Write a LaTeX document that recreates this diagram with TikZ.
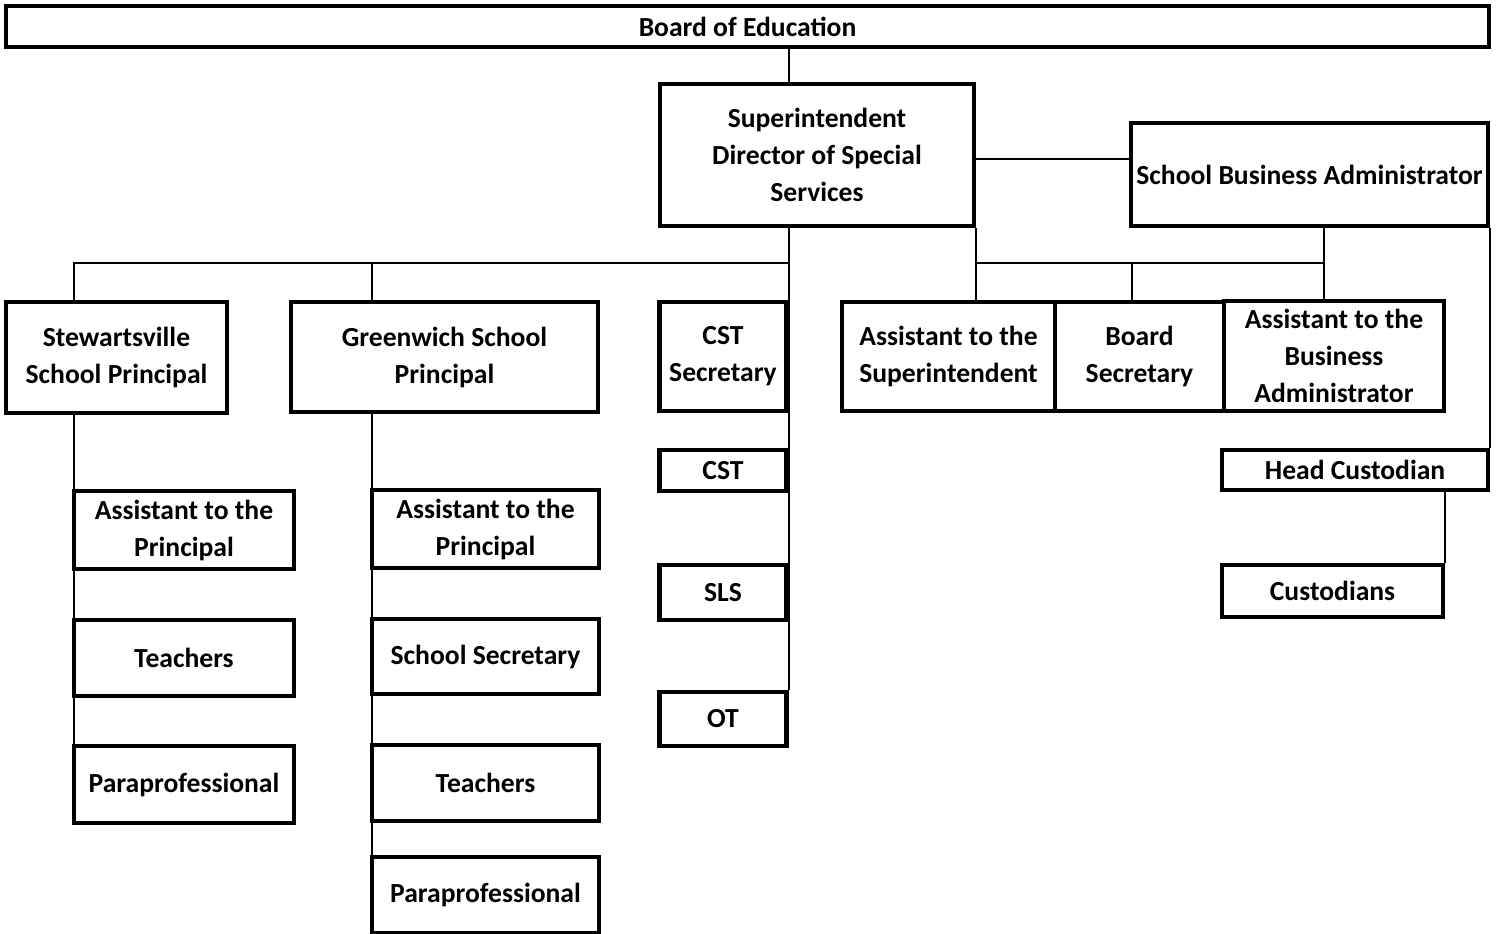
\documentclass[tikz,border=0pt]{standalone}
\usepackage{fontspec}
\setmainfont{Carlito}
\usepackage{tikz}
\usetikzlibrary{positioning, calc}
\tikzset{
    box/.style={rectangle, draw, line width=2.3pt, inner sep=0pt, align=center, font=\bfseries\fontsize{13.8}{18.5}\selectfont},
    sz/.style 2 args={minimum width=#1*0.5pt, minimum height=#2*0.5pt},
    link/.style={line width=1pt}
}

\begin{document}
\begin{tikzpicture}[x=0.5pt, y=-0.5pt]
            \useasboundingbox (0,0) rectangle (1503,933);
            \node[box, sz={1483}{41}] (board) at (747.5,26.5) {Board of Education};
            \node[box, sz={314}{142}] (sup) at (817,155) {Superintendent\\Director of Special\\Services};
            \node[box, sz={357}{103}] (sba) at (1309.5,174.5) {School Business Administrator};
            \node[box, sz={221}{111}] (stew) at (116.5,357.5) {Stewartsville\\School Principal};
            \node[box, sz={307}{110}] (green) at (444.5,357) {Greenwich School\\Principal};
            \node[box, sz={127}{109}] (cstsec) at (723,356.5) {CST\\Secretary};
            \node[box, sz={213}{109}] (asup) at (948.5,356.5) {Assistant to the\\Superintendent};
            \node[box, sz={169}{109}] (bsec) at (1139.5,356.5) {Board\\Secretary};
            \node[box, sz={220}{110}] (abus) at (1334,356) {Assistant to the\\Business\\Administrator};
            \node[box, sz={127}{41}] (cst) at (723,470.5) {CST};
            \node[box, sz={127}{55}] (sls) at (723,592.5) {SLS};
            \node[box, sz={127}{54}] (ot) at (723,719) {OT};
            \node[box, sz={266}{40}] (hcust) at (1355,470) {Head Custodian};
            \node[box, sz={221}{52}] (cust) at (1332.5,591) {Custodians};
            \node[box, sz={220}{78}] (sap) at (184,530) {Assistant to the\\Principal};
            \node[box, sz={220}{76}] (steach) at (184,658) {Teachers};
            \node[box, sz={220}{77}] (spara) at (184,784.5) {Paraprofessional};
            \node[box, sz={227}{78}] (gap) at (485.5,529) {Assistant to the\\Principal};
            \node[box, sz={227}{75}] (gsec) at (485.5,656.5) {School Secretary};
            \node[box, sz={227}{76}] (gteach) at (485.5,783) {Teachers};
            \node[box, sz={227}{76}] (gpara) at (485.5,895) {Paraprofessional};
            \coordinate (busL) at (74,263);
            \coordinate (gstem) at (372,263);
            \coordinate (busR) at (1324,263);
            \coordinate (bstem) at (1132,263);
            \coordinate (sbalink) at (974,159);
            \draw[link] (board.south -| ot.east) -- (sup.north -| ot.east);
            \draw[link] (sup.south -| ot.east) -- (ot.north east);
            \draw[link] (stew.north -| busL) -- (busL) -- (busL -| ot.east);
            \draw[link] (green.north -| gstem) -- (gstem);
            \draw[link] (stew.south -| busL) -- (spara.north -| busL);
            \draw[link] (green.south -| gstem) -- (gpara.north -| gstem);
            \draw[link] (sbalink) -- (sbalink -| sba.west);
            \draw[link] (sup.south east) -- (sup.south east |- asup.north);
            \draw[link] (busR -| sup.east) -- (busR);
            \draw[link] (sba.south -| busR) -- (abus.north -| busR);
            \draw[link] (bstem) -- (bsec.north -| bstem);
            \draw[link] (sba.south east) -- (hcust.north east);
            \draw[link] (hcust.south -| cust.east) -- (cust.north east);
        \end{tikzpicture}
\end{document}
